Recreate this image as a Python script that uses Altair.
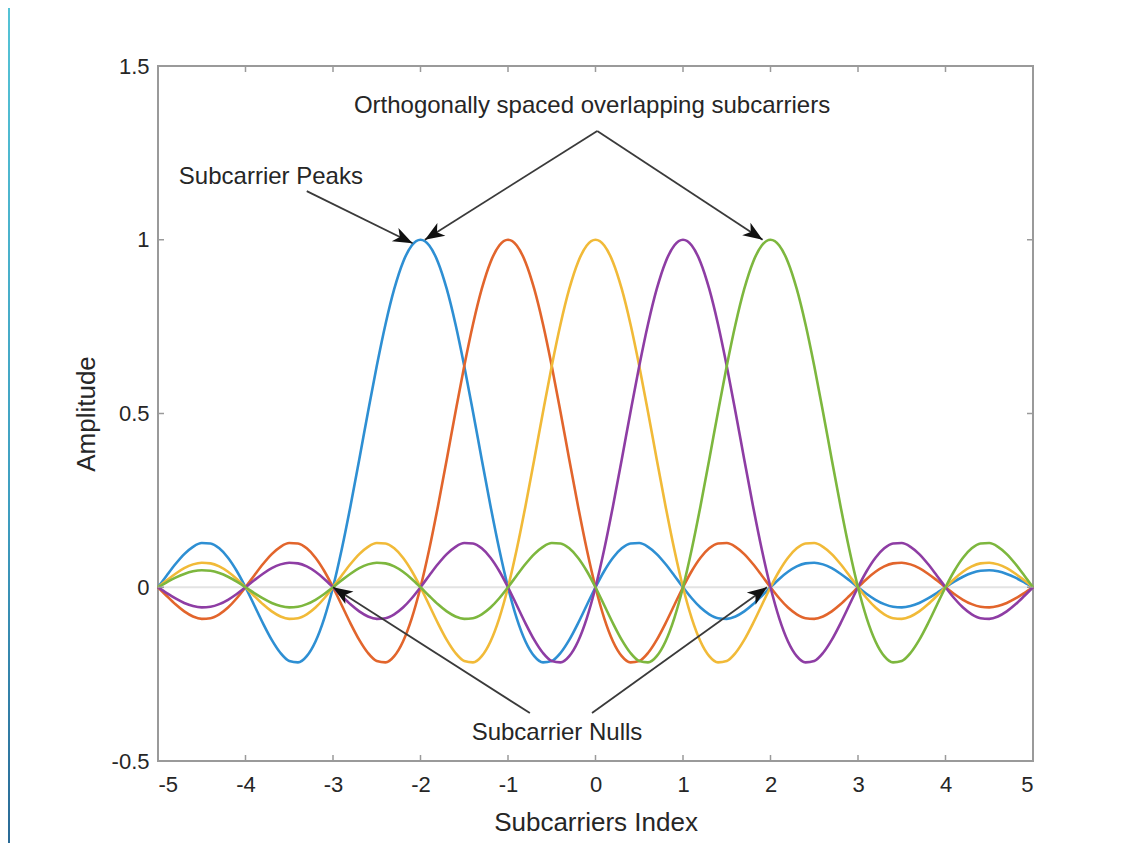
import math
import altair as alt
import pandas as pd

# ---------------- data ----------------
centers = [-2, -1, 0, 1, 2]
colors = ["#2E8FD3", "#E2652C", "#F1BA38", "#8E3DA4", "#7DB73E"]
x_ticks = [-5, -4, -3, -2, -1, 0, 1, 2, 3, 4, 5]
y_ticks = [-0.5, 0, 0.5, 1, 1.5]

# subcarrier pulse amplitude read at offsets 0.0, 0.1, ... 7.0 from its centre
pulse = [
    1.0, 0.9836, 0.9355, 0.8584, 0.7568, 0.6366, 0.5046, 0.3679, 0.2339, 0.1093,
    0.0, -0.0894, -0.1559, -0.1981, -0.2162, -0.2122, -0.1892, -0.1515, -0.1039, -0.0518,
    0.0, 0.0468, 0.0850, 0.1120, 0.1261, 0.1273, 0.1164, 0.0954, 0.0668, 0.0339,
    0.0, -0.0317, -0.0585, -0.0780, -0.0890, -0.0909, -0.0841, -0.0696, -0.0492, -0.0252,
    0.0, 0.0240, 0.0445, 0.0599, 0.0688, 0.0707, 0.0658, 0.0548, 0.0390, 0.0201,
    0.0, -0.0193, -0.0360, -0.0486, -0.0561, -0.0579, -0.0541, -0.0452, -0.0323, -0.0167,
    0.0, 0.0161, 0.0302, 0.0409, 0.0473, 0.0490, 0.0459, 0.0384, 0.0275, 0.0143,
    0.0,
]
pulse_step = 0.1
x_samples = [round(-5 + i * pulse_step, 1) for i in range(101)]

ann_texts = ["Orthogonally spaced overlapping subcarriers", "Subcarrier Peaks", "Subcarrier Nulls"]
ann_x = [-0.04, -3.71, -0.44]
ann_y = [1.385, 1.18, -0.42]

arrow_x1 = [0.02, 0.02, -3.30, -0.75, -0.04]
arrow_y1 = [1.313, 1.313, 1.14, -0.362, -0.362]
arrow_x2 = [-1.95, 1.91, -2.09, -3.0, 1.96]
arrow_y2 = [1.0, 1.0, 0.99, 0.0, 0.0]

# ---------------- layout ----------------
W, H = 875, 695
X_DOM, Y_DOM = [-5, 5], [-0.5, 1.5]
px_per_x = W / (X_DOM[1] - X_DOM[0])
px_per_y = H / (Y_DOM[1] - Y_DOM[0])

rows = []
for c in centers:
    for xv in x_samples:
        idx = int(round(abs(xv - c) / pulse_step))
        rows.append({"x": xv, "amp": pulse[idx], "center": c})
curves = pd.DataFrame(rows)

angles = []
for a, b, c2, d in zip(arrow_x1, arrow_y1, arrow_x2, arrow_y2):
    dx = (c2 - a) * px_per_x
    dy = -(d - b) * px_per_y
    angles.append(math.degrees(math.atan2(dx, -dy)) % 360)
arrows = pd.DataFrame({"x1": arrow_x1, "y1": arrow_y1, "x2": arrow_x2, "y2": arrow_y2, "ang": angles})
ann = pd.DataFrame({"t": ann_texts, "x": ann_x, "y": ann_y})
xt = pd.DataFrame({"v": x_ticks})
yt = pd.DataFrame({"v": y_ticks})

FONT = "Liberation Sans"
TXT = "#262626"
FRAME = "#9a9a9a"

xs = alt.Scale(domain=X_DOM, nice=False, zero=False)
ys = alt.Scale(domain=Y_DOM, nice=False, zero=False)

x_axis = alt.Axis(values=x_ticks, labelExpr="'' + datum.value", title="Subcarriers Index",
                  grid=False, domain=False, ticks=False, labelPadding=13, titlePadding=14,
                  labelFontSize=22, titleFontSize=26, labelFont=FONT, titleFont=FONT,
                  labelColor=TXT, titleColor=TXT, titleFontWeight="normal")
y_axis = alt.Axis(values=y_ticks, labelExpr="'' + datum.value", title="Amplitude",
                  grid=False, domain=False, ticks=False, labelPadding=9, titlePadding=12,
                  labelFontSize=22, titleFontSize=26, labelFont=FONT, titleFont=FONT,
                  labelColor=TXT, titleColor=TXT, titleFontWeight="normal")

zero_line = alt.Chart(pd.DataFrame({"v": [0]})).mark_rule(color="#e3e3e3", strokeWidth=2).encode(
    y=alt.Y("v:Q", scale=ys, axis=y_axis)
)

lines = alt.Chart(curves).mark_line(strokeWidth=2.6, interpolate="monotone").encode(
    x=alt.X("x:Q", scale=xs, axis=x_axis),
    y=alt.Y("amp:Q", scale=ys, axis=y_axis),
    color=alt.Color("center:N", scale=alt.Scale(domain=centers, range=colors), legend=None),
)

tick_style = dict(color=FRAME, strokeWidth=1.5)
tb = alt.Chart(xt).mark_rule(**tick_style).encode(x=alt.X("v:Q", scale=xs), y=alt.value(H), y2=alt.value(H - 6))
tt = alt.Chart(xt).mark_rule(**tick_style).encode(x=alt.X("v:Q", scale=xs), y=alt.value(0), y2=alt.value(6))
tl = alt.Chart(yt).mark_rule(**tick_style).encode(y=alt.Y("v:Q", scale=ys), x=alt.value(0), x2=alt.value(6))
tr = alt.Chart(yt).mark_rule(**tick_style).encode(y=alt.Y("v:Q", scale=ys), x=alt.value(W), x2=alt.value(W - 6))

arrow_lines = alt.Chart(arrows).mark_rule(color="#3a3a3a", strokeWidth=1.8).encode(
    x=alt.X("x1:Q", scale=xs), y=alt.Y("y1:Q", scale=ys), x2="x2:Q", y2="y2:Q"
)
head_path = "M0,0 L0.5,1.3 L0,0.95 L-0.5,1.3 Z"
arrow_heads = alt.Chart(arrows).mark_point(
    shape=head_path, filled=True, size=900, color="#111111", opacity=1, strokeWidth=0
).encode(x=alt.X("x2:Q", scale=xs), y=alt.Y("y2:Q", scale=ys), angle=alt.Angle("ang:Q", scale=None))

labels = alt.Chart(ann).mark_text(font=FONT, fontSize=24, color=TXT, align="center", baseline="middle").encode(
    x=alt.X("x:Q", scale=xs), y=alt.Y("y:Q", scale=ys), text="t:N"
)

strip = alt.Chart(pd.DataFrame({"v": [0]})).mark_rect(
    color=alt.LinearGradient(gradient="linear", x1=0, y1=0, x2=0, y2=1,
                             stops=[alt.GradientStop(color="#55C3D6", offset=0),
                                    alt.GradientStop(color="#3F9EC0", offset=0.6),
                                    alt.GradientStop(color="#2A6A96", offset=1)])
).encode(x=alt.value(-150), x2=alt.value(-148), y=alt.value(-58), y2=alt.value(H + 82))

chart = alt.layer(strip, zero_line, lines, tb, tt, tl, tr, arrow_lines, arrow_heads, labels).properties(
    width=W, height=H,
    autosize=alt.AutoSizeParams(type="none"),
    padding={"left": 150, "top": 58, "right": 87, "bottom": 82},
    background="white",
).configure_view(stroke=FRAME, strokeWidth=2)

chart.save("out.html", embed_options={"renderer": "svg", "actions": False})
